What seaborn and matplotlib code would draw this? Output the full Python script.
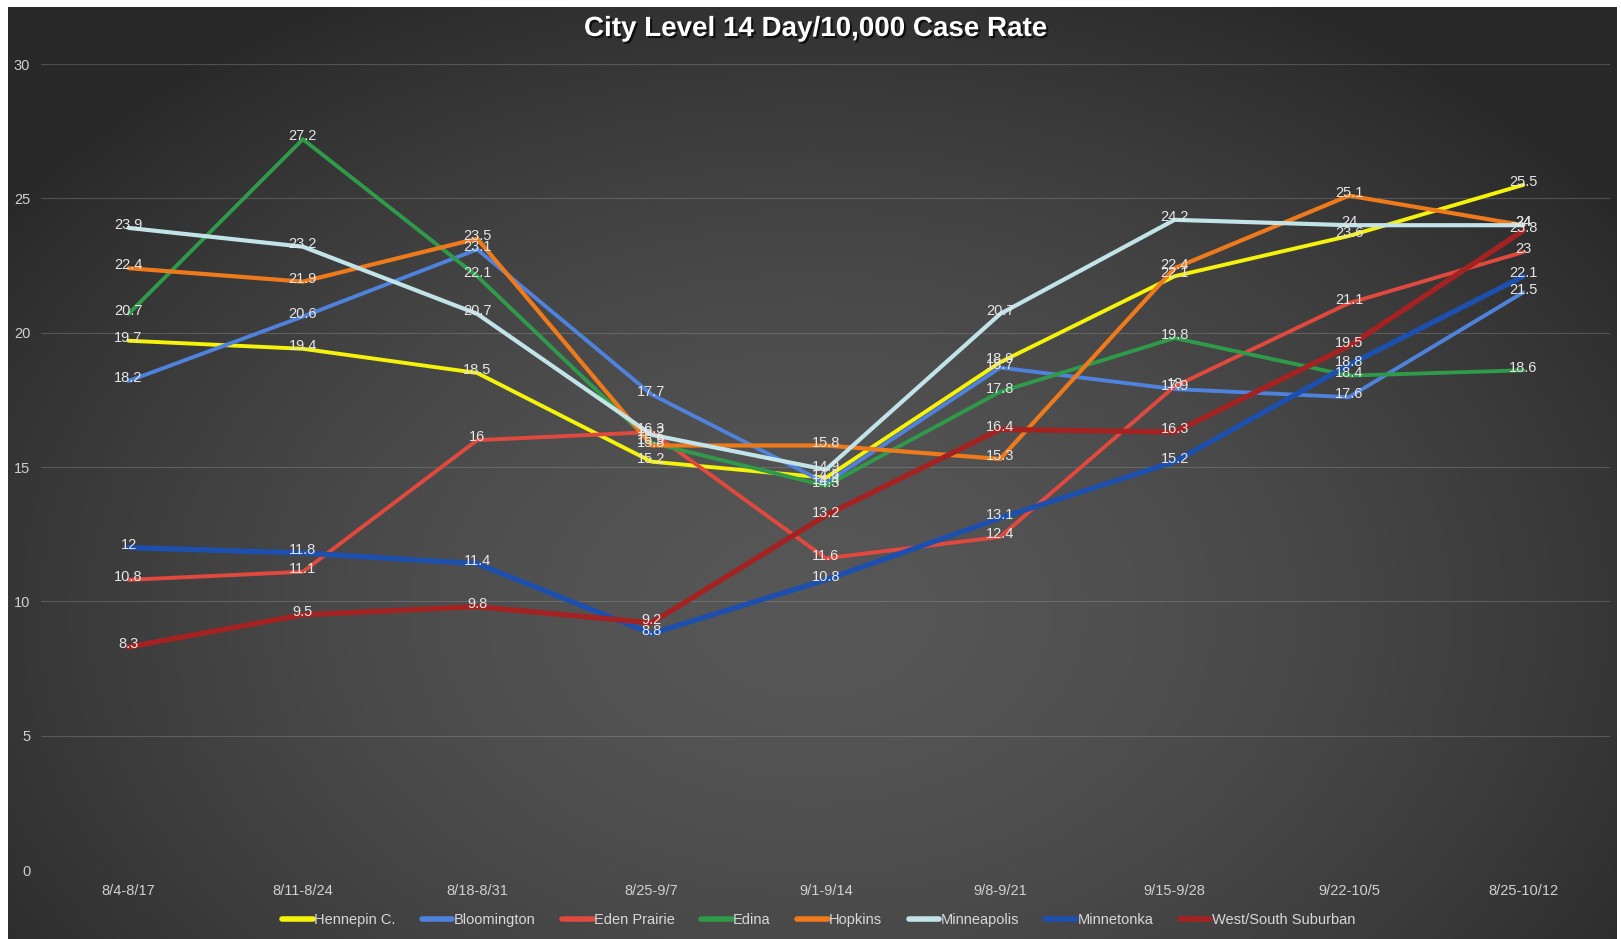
import numpy as np
import pandas as pd
import matplotlib
matplotlib.use("Agg")
import matplotlib.pyplot as plt
import matplotlib.patheffects as pe
from matplotlib.lines import Line2D
import seaborn as sns

categories = ["8/4-8/17", "8/11-8/24", "8/18-8/31", "8/25-9/7", "9/1-9/14",
              "9/8-9/21", "9/15-9/28", "9/22-10/5", "8/25-10/12"]

hennepin = [19.7, 19.4, 18.5, 15.2, 14.6, 18.9, 22.1, 23.6, 25.5]
bloomington = [18.2, 20.6, 23.1, 17.7, 14.4, 18.7, 17.9, 17.6, 21.5]
eden_prairie = [10.8, 11.1, 16.0, 16.3, 11.6, 12.4, 18.0, 21.1, 23.0]
edina = [20.7, 27.2, 22.1, 15.9, 14.3, 17.8, 19.8, 18.4, 18.6]
hopkins = [22.4, 21.9, 23.5, 15.8, 15.8, 15.3, 22.4, 25.1, 24.0]
minneapolis = [23.9, 23.2, 20.7, 16.2, 14.9, 20.7, 24.2, 24.0, 24.0]
minnetonka = [12.0, 11.8, 11.4, 8.8, 10.8, 13.1, 15.2, 18.8, 22.1]
west_south = [8.3, 9.5, 9.8, 9.2, 13.2, 16.4, 16.3, 19.5, 23.8]

series_names = ["Hennepin C.", "Bloomington", "Eden Prairie", "Edina", "Hopkins",
                "Minneapolis", "Minnetonka", "West/South Suburban"]
series_values = [hennepin, bloomington, eden_prairie, edina, hopkins,
                 minneapolis, minnetonka, west_south]
colors = ["#f5f20c", "#4f82dc", "#e2493e", "#2f9a4a", "#ef7a1c",
          "#c2e4e8", "#1c4fae", "#a52222"]
widths = [2.8, 2.8, 2.8, 2.8, 3.0, 3.0, 3.8, 3.8]

rows = []
for name, vals in zip(series_names, series_values):
    for i, v in enumerate(vals):
        rows.append({"x": i, "period": categories[i], "value": v, "series": name})
df = pd.DataFrame(rows)

sns.set_theme(style="dark")
plt.rcParams['font.family'] = ['Liberation Sans', 'DejaVu Sans']

W, H = 1621, 939
fig = plt.figure(figsize=(W / 100, H / 100), dpi=100, facecolor="white")

# gradient background
bg = fig.add_axes([0.005, 0.0, 0.992, 0.993])
bg.set_axis_off()
ny, nx = 300, 500
yy, xx = np.mgrid[0:1:ny * 1j, 0:1:nx * 1j]
r = np.sqrt(((xx - 0.5) / 0.62) ** 2 + ((yy - 0.65) / 0.75) ** 2)
r = np.clip(r, 0, 1)
c_center = np.array([0.34, 0.34, 0.34])
c_edge = np.array([0.16, 0.16, 0.16])
img = c_center[None, None, :] - (c_center - c_edge)[None, None, :] * (r[..., None] ** 1.6)
bg.imshow(img, aspect="auto", extent=[0, 1, 0, 1], origin="upper")

ax = fig.add_axes([0.0255, 1 - 870 / H, 0.968, (870 - 64) / H])
ax.patch.set_alpha(0)

sns.lineplot(data=df, x="x", y="value", hue="series", hue_order=series_names,
             palette=colors, ax=ax, legend=False, sort=False)
for line, lw in zip(ax.get_lines(), widths):
    line.set_linewidth(lw)
    line.set_solid_joinstyle("round")

for name, vals in zip(series_names, series_values):
    for i, v in enumerate(vals):
        txt = f"{v:g}"
        ax.annotate(txt, (i, v), xytext=(0, 2), textcoords="offset points",
                    ha="center", va="center", fontsize=10.5, color="#e6e6e6")

ax.set_xlim(-0.5, 8.5)
ax.set_ylim(0, 30)
ax.set_yticks([0, 5, 10, 15, 20, 25, 30])
ax.set_xticks(range(len(categories)))
ax.set_xticklabels(categories)
ax.set_xlabel("")
ax.set_ylabel("")
ax.grid(axis="y", color="#9a9a9a", alpha=0.35, linewidth=0.8)
ax.grid(axis="x", visible=False)
for s in ax.spines.values():
    s.set_visible(False)
ax.tick_params(axis="y", colors="#d0d0d0", labelsize=10.5, length=0, pad=8)
ax.tick_params(axis="x", colors="#d0d0d0", labelsize=10.5, length=0, pad=10)

fig.text(0.503, 1 - 29 / H, "City Level 14 Day/10,000 Case Rate", ha="center", va="center",
         fontsize=20, fontweight="bold", color="white",
         path_effects=[pe.withSimplePatchShadow(offset=(1.5, -1.5), shadow_rgbFace="black", alpha=0.7)])

handles = [Line2D([0], [0], color=c, lw=4) for c in colors]
leg = fig.legend(handles, series_names, loc="center", bbox_to_anchor=(0.505, 1 - 920 / H),
                 ncol=8, frameon=False, fontsize=10.5, handlelength=2.1, handletextpad=0.1,
                 columnspacing=1.8, labelcolor="#d8d8d8")

fig.savefig("out.png", dpi=100, facecolor="white")
